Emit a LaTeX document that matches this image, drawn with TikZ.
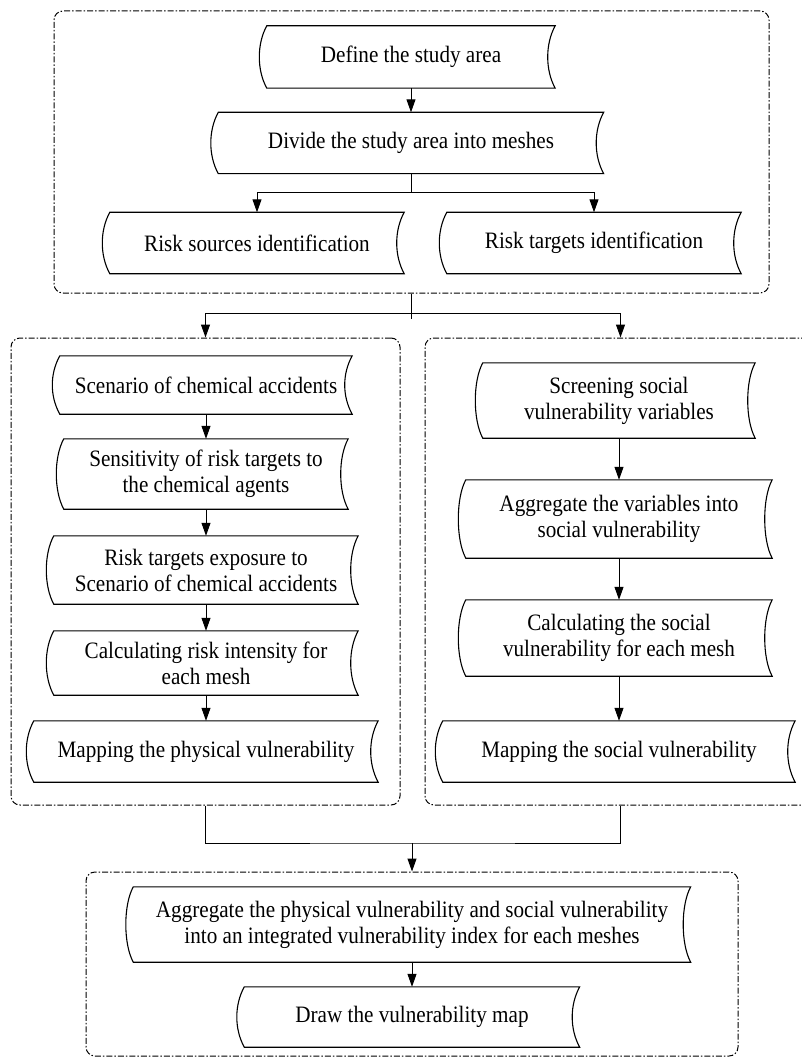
\documentclass[tikz,border=0pt]{standalone}
\usepackage{fontspec}
\setmainfont{Liberation Serif}[FakeStretch=0.9]
\usetikzlibrary{arrows.meta}
\newcommand{\tapeoutline}[1]{%
  \draw[line width=1.1pt] (#1.north west) .. controls +(-10,18) and +(-10,-18) .. (#1.south west)
    -- (#1.south east) .. controls +(-10,-18) and +(-10,18) .. (#1.north east) -- cycle;}
\begin{document}
\begin{tikzpicture}[x=1pt,y=-1pt,
  tape/.style={inner sep=0pt, align=center, font=\fontsize{23.5}{26}\selectfont},
  grp/.style={draw, dash pattern=on 6pt off 2pt on 1.5pt off 2pt, line width=1pt, rounded corners=9pt, inner sep=0pt},
  arr/.style={-{Triangle[length=13pt,width=9pt]}, line width=1pt},
  con/.style={line width=1pt}]
\useasboundingbox (0,0) rectangle (801,1059);
% groups
\node[grp, minimum width=715, minimum height=282] (gtop) at (411.5,152) {};
\node[grp, minimum width=389, minimum height=467] (gl) at (205.5,571.5) {};
\node[grp, minimum width=391, minimum height=467] (gr) at (620.5,571.5) {};
\node[grp, minimum width=652, minimum height=184] (gbot) at (412,964) {};
% top
\node[tape, minimum width=288, minimum height=62] (def) at (411,57) {Define the study area};
\node[tape, minimum width=385, minimum height=61] (div) at (411,143) {Divide the study area into meshes};
\node[tape, minimum width=294, minimum height=61] (rs) at (257,243) {Risk sources identification};
\node[tape, minimum width=294, minimum height=61] (rt) at (594,243) {Risk targets identification};
% left column
\node[tape, minimum width=292, minimum height=58] (sc) at (206,385) {Scenario of chemical accidents};
\node[tape, minimum width=284, minimum height=70] (se) at (206,474) {Sensitivity of risk targets to\\the chemical agents};
\node[tape, minimum width=304, minimum height=68] (re) at (206,570) {Risk targets exposure to\\Scenario of chemical accidents};
\node[tape, minimum width=304, minimum height=64] (cr) at (206,663) {Calculating risk intensity for\\each mesh};
\node[tape, minimum width=344, minimum height=61] (mp) at (206,751.5) {Mapping the physical vulnerability};
% right column
\node[tape, minimum width=272, minimum height=75] (sv) at (619,400.5) {Screening social\\vulnerability variables};
\node[tape, minimum width=306, minimum height=78] (av) at (619,519) {Aggregate the variables into\\social vulnerability};
\node[tape, minimum width=306, minimum height=76] (cs) at (619,638) {Calculating the social\\vulnerability for each mesh};
\node[tape, minimum width=352, minimum height=61] (ms) at (619,751.5) {Mapping the social vulnerability};
% bottom
\node[tape, minimum width=557, minimum height=75] (ag) at (412,924.5) {Aggregate the physical vulnerability and social vulnerability\\into an integrated vulnerability index for each meshes};
\node[tape, minimum width=335, minimum height=60] (dm) at (412,1017) {Draw the vulnerability map};
\foreach \n in {def,div,rs,rt,sc,se,re,cr,mp,sv,av,cs,ms,ag,dm} {\tapeoutline{\n}}
% connectors
\coordinate (b1) at (411,193);
\coordinate (b2) at (411,313);
\coordinate (b3) at (412,843);
\draw[arr] (def.south) -- (div.north);
\draw[con] (div.south) -- (b1);
\draw[arr] (b1) -| (rs.north);
\draw[arr] (b1) -| (rt.north);
\draw[con] (gtop.south) -- ++(0,25);
\draw[arr] (b2) -| (gl.north);
\draw[arr] (b2) -| (gr.north);
\draw[arr] (sc) -- (se);
\draw[arr] (se) -- (re);
\draw[arr] (re) -- (cr);
\draw[arr] (cr) -- (mp);
\draw[arr] (sv) -- (av);
\draw[arr] (av) -- (cs);
\draw[arr] (cs) -- (ms);
\draw[con] (gl.south) |- (b3) -| (gr.south);
\draw[arr] (b3) -- (gbot.north);
\draw[arr] (ag) -- (dm);
\end{tikzpicture}
\end{document}
